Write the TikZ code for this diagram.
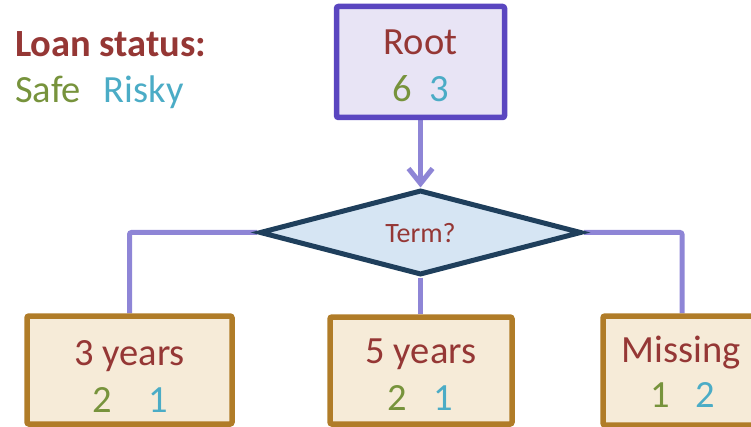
\documentclass[tikz,border=0pt]{standalone}
\usepackage{fontspec}
\setmainfont{Carlito}
\usetikzlibrary{shapes.geometric,arrows.meta,backgrounds}
\definecolor{tred}{HTML}{953735}
\definecolor{tgreen}{HTML}{77933C}
\definecolor{tteal}{HTML}{4BACC6}
\definecolor{lnc}{HTML}{8E85D6}
\definecolor{rootbd}{HTML}{5A46C0}
\definecolor{rootfl}{HTML}{E8E4F5}
\definecolor{dmbd}{HTML}{1F3F5C}
\definecolor{dmfl}{HTML}{D6E5F3}
\definecolor{lfbd}{HTML}{B07C28}
\definecolor{lffl}{HTML}{F6EBD8}
\begin{document}
\begin{tikzpicture}[x=1pt,y=-1pt,
  big/.style={font=\fontsize{38.5}{40}\selectfont, inner sep=0pt, anchor=base},
  mid/.style={font=\fontsize{28}{30}\selectfont, inner sep=0pt, anchor=base},
  rootbox/.style={draw=rootbd, fill=rootfl, line width=5.5pt, rounded corners=2pt, inner sep=0pt},
  diam/.style={diamond, draw=dmbd, fill=dmfl, line width=5pt, inner sep=0pt},
  leaf/.style={draw=lfbd, fill=lffl, line width=5.5pt, rounded corners=2pt, inner sep=0pt},
  conn/.style={draw=lnc, line width=5pt, rounded corners=2pt}]
\useasboundingbox (0,0) rectangle (751,427);
\clip (0,0) rectangle (751,427);
% boxes
\node[rootbox, minimum width=168pt, minimum height=111pt] (root) at (420.5,62) {};
\node[diam, minimum width=322pt, minimum height=85pt] (term) at (420.5,232.5) {};
\node[leaf, minimum width=205pt, minimum height=108pt] (y3) at (129.5,370) {};
\node[leaf, minimum width=182pt, minimum height=107pt] (y5) at (421,370.5) {};
\node[leaf, minimum width=158pt, minimum height=109pt] (miss) at (682,370.5) {};
% connectors
\begin{pgfonlayer}{background}
\draw[conn, -{Straight Barb[length=15pt,width=24pt,line width=5pt]}] (root.south) -- (term.north);
\draw[conn] (term.west) -| (y3.north);
\draw[conn] (term.east) -| (miss.north);
\draw[conn] (term.south) -- (term.south |- y5.north);
\end{pgfonlayer}
% texts
\node[big, text=tred] (roott) at (420.5,55) {Root};
\node[big] (rootn) at (420.5,102) {\textcolor{tgreen}{6}\hspace{0.46em}\textcolor{tteal}{3}};
\node[mid, text=tred] (termt) at (420.5,243) {Term?};
\node[big, text=tred] (y3t) at (129.5,365) {3 years};
\node[big] (y3n) at (130,412) {\textcolor{tgreen}{2}\hspace{0.95em}\textcolor{tteal}{1}};
\node[big, text=tred] (y5t) at (421,363) {5 years};
\node[big] (y5n) at (420,410) {\textcolor{tgreen}{2}\hspace{0.7em}\textcolor{tteal}{1}};
\node[big, text=tred] (misst) at (681,362) {Missing};
\node[big] (missn) at (683,407) {\textcolor{tgreen}{1}\hspace{0.66em}\textcolor{tteal}{2}};
% legend
\node[big, anchor=base west, text=tred, font=\fontsize{38.5}{40}\selectfont\bfseries] (leg) at (15,57) {Loan status:};
\node[big, anchor=base west] (legk) at (15,103) {\textcolor{tgreen}{Safe}\hspace{0.59em}\textcolor{tteal}{Risky}};
\end{tikzpicture}
\end{document}
